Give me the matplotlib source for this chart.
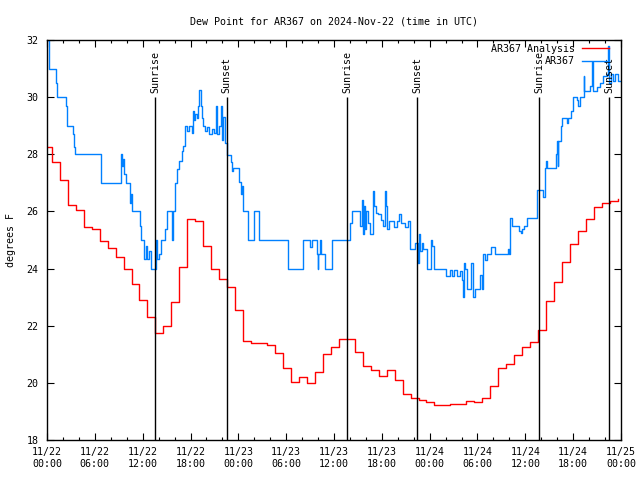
import matplotlib
matplotlib.use('Agg')
import matplotlib.pyplot as plt
import numpy as np

# hours since 2024-11-22 00:00 UTC
red_t = [0.0] + list(np.arange(0.6, 72.0, 1.0))
red_v = [28.25,
         27.73, 27.1, 26.22, 26.05, 25.47, 25.38, 24.97, 24.72, 24.4, 23.98,
         23.46, 22.9, 22.3, 21.75, 21.99, 22.83, 24.05, 25.73, 25.66, 24.79,
         24.0, 23.63, 23.35, 22.55, 21.45, 21.39, 21.4, 21.32, 21.05, 20.52,
         20.04, 20.2, 19.99, 20.38, 21.0, 21.25, 21.53, 21.53, 21.09, 20.59,
         20.45, 20.24, 20.45, 20.1, 19.6, 19.47, 19.4, 19.34, 19.22, 19.22,
         19.25, 19.25, 19.35, 19.33, 19.46, 19.9, 20.52, 20.66, 20.97, 21.25,
         21.43, 21.84, 22.85, 23.52, 24.22, 24.86, 25.33, 25.73, 26.14, 26.3,
         26.38, 26.42]

blue_t = [0.0, 0.2, 1.17, 1.3, 2.34, 2.47, 2.55, 3.3, 3.43, 3.55, 6.73,
          9.33, 9.42, 9.5, 9.6, 9.87, 10.37, 10.45, 10.55, 10.7, 11.63, 11.75,
          12.17, 12.38, 12.59, 12.8, 13.0, 13.63, 13.84, 14.05, 14.26,
          14.8, 15.0, 15.65, 15.77, 16.06, 16.35, 16.6, 16.9, 17.1, 17.3,
          17.6, 17.85, 18.15, 18.36, 18.48, 18.6, 18.78, 18.9, 19.1, 19.32,
          19.45, 19.61, 19.82, 20.1, 20.36, 20.66, 20.95, 21.2, 21.37, 21.62,
          21.79, 21.96, 22.12, 22.3, 22.55, 23.09, 23.2, 23.38, 24.09, 24.3,
          24.43, 24.63, 25.26, 26.0, 26.6, 30.2,
          32.16, 33.0, 33.29, 33.88, 33.96, 34.05, 34.25, 34.38, 34.88, 35.8,
          38.02, 38.31, 39.27, 39.48, 39.6, 39.77, 39.9, 40.06, 40.32, 40.53,
          40.95, 41.07, 41.24, 41.57, 41.9, 42.2, 42.4, 42.57, 42.7, 42.9,
          43.58, 43.87, 44.17, 44.42, 44.92, 45.33, 45.55, 46.17, 46.5, 46.68,
          46.8, 47.0, 47.2, 47.64, 48.18, 48.35, 48.6, 50.02, 50.56, 50.77,
          51.1, 51.4, 51.8, 52.0, 52.16, 52.28, 52.45, 52.66, 53.2, 53.49,
          53.7, 54.33, 54.54, 54.74, 54.96, 55.17, 55.71, 56.2, 57.8, 57.97,
          58.09, 58.3, 59.22, 59.47, 59.64, 59.89, 60.19, 61.52,
          62.27, 62.48, 62.6, 62.74, 63.82, 63.95, 64.05, 64.15, 64.5, 64.66,
          65.2, 65.4, 65.7, 65.96, 66.46, 66.66, 66.88, 67.3, 67.41, 68.13,
          68.34, 68.54, 68.97, 69.38, 69.8, 70.2, 70.42, 70.55, 70.76, 71.05,
          71.27, 71.6, 72.0]
blue_v = [32.0, 31.0, 30.5, 30.0, 29.7, 29.27, 29.0, 28.7, 28.26, 28.0, 27.0,
          28.0, 27.6, 27.85, 27.3, 27.0, 26.6, 26.3, 26.6, 26.0, 25.5, 25.0,
          24.35, 24.8, 24.35, 24.6, 24.0, 25.0, 24.35, 24.5, 25.0,
          25.4, 26.0, 25.0, 26.0, 27.0, 27.5, 27.75, 28.1, 28.3, 29.0,
          28.8, 29.0, 28.75, 29.5, 29.2, 29.4, 29.26, 29.7, 30.25, 29.7,
          29.26, 29.0, 28.8, 28.95, 28.7, 28.9, 28.75, 29.7, 28.7, 29.0,
          29.7, 28.5, 29.3, 28.4, 27.97, 27.74, 27.4, 27.53, 27.04, 26.6,
          26.9, 26.0, 25.0, 26.0, 25.0, 24.0,
          25.0, 24.77, 25.0, 24.5, 24.0, 24.5, 25.0, 24.5, 24.0, 25.0,
          25.6, 26.0, 25.5, 26.4, 25.2, 26.2, 25.4, 26.0, 25.6, 25.2,
          26.7, 26.2, 25.95, 25.9, 25.7, 25.5, 26.7, 26.2, 25.4, 25.65,
          25.45, 25.65, 25.9, 25.6, 25.45, 25.65, 24.7, 24.9, 24.2, 25.2,
          24.6, 24.9, 24.7, 24.0, 25.0, 24.8, 24.0, 23.75, 23.95, 23.75,
          23.95, 23.75, 23.9, 23.6, 23.0, 24.2, 24.0, 23.3, 24.2, 23.0,
          23.3, 23.77, 23.3, 24.5, 24.3, 24.5, 24.77, 24.5, 24.7, 24.5,
          25.76, 25.5, 25.3, 25.23, 25.4, 25.5, 25.76, 26.75,
          26.5, 27.52, 27.78, 27.52, 28.0, 28.48, 27.6, 28.48, 28.98, 29.27,
          29.1, 29.27, 29.5, 29.99, 29.9, 29.7, 29.99, 30.73, 30.2, 30.4,
          31.22, 30.2, 30.35, 30.5, 30.73, 30.8, 31.78, 30.5, 30.8, 30.55,
          30.8, 30.55, 30.55]

sun_t = [13.59, 22.54, 37.68, 46.46, 61.77, 70.51]
sun_labels = ['Sunrise', 'Sunset', 'Sunrise', 'Sunset', 'Sunrise', 'Sunset']

xtick_labels = ['11/22\n00:00', '11/22\n06:00', '11/22\n12:00', '11/22\n18:00',
                '11/23\n00:00', '11/23\n06:00', '11/23\n12:00', '11/23\n18:00',
                '11/24\n00:00', '11/24\n06:00', '11/24\n12:00', '11/24\n18:00',
                '11/25\n00:00']

plt.rcParams['font.family'] = 'DejaVu Sans Mono'
plt.rcParams['font.size'] = 7.2

fig = plt.figure(figsize=(6.4, 4.8), dpi=100)
ax = fig.add_axes([47/640, 40/480, 574/640, 400/480])

ax.step(red_t, red_v, where='post', color='#ff0000', lw=1.0, label='AR367 Analysis')
ax.step(blue_t, blue_v, where='post', color='#0080ff', lw=1.0, label='AR367')

# sunrise / sunset markers
ax.vlines(sun_t, 18, 30, color='black', lw=1.0)
for t, s in zip(sun_t, sun_labels):
    ax.text(t, 30.15, s, rotation=90, ha='center', va='bottom', fontsize=7.2)

ax.set_xlim(0, 72)
ax.set_ylim(18, 32)
ax.set_xticks(np.arange(0, 73, 6))
ax.set_xticks(np.arange(0, 73, 2), minor=True)
ax.set_xticklabels(xtick_labels)
ax.set_yticks(np.arange(18, 33, 2))
ax.tick_params(axis='both', which='major', direction='in', length=5, width=0.8,
               top=True, right=True, labelsize=7.2)
ax.tick_params(axis='x', which='minor', direction='in', length=2.5, width=0.8,
               top=True, bottom=True)
ax.tick_params(axis='x', which='major', pad=5)
ax.tick_params(axis='y', which='major', pad=6)
for sp in ax.spines.values():
    sp.set_linewidth(1.0)

ax.set_ylabel('degrees F', fontsize=7.2, labelpad=8)
ax.set_title('Dew Point for AR367 on 2024-Nov-22 (time in UTC)', fontsize=7.2, pad=11)

ax.legend(loc='upper right', bbox_to_anchor=(0.979, 0.99), frameon=False,
          markerfirst=False, handlelength=2.7, handletextpad=0.7,
          labelspacing=0.25, borderpad=0, borderaxespad=0, fontsize=7.2)

plt.savefig('out.png', dpi=100)
